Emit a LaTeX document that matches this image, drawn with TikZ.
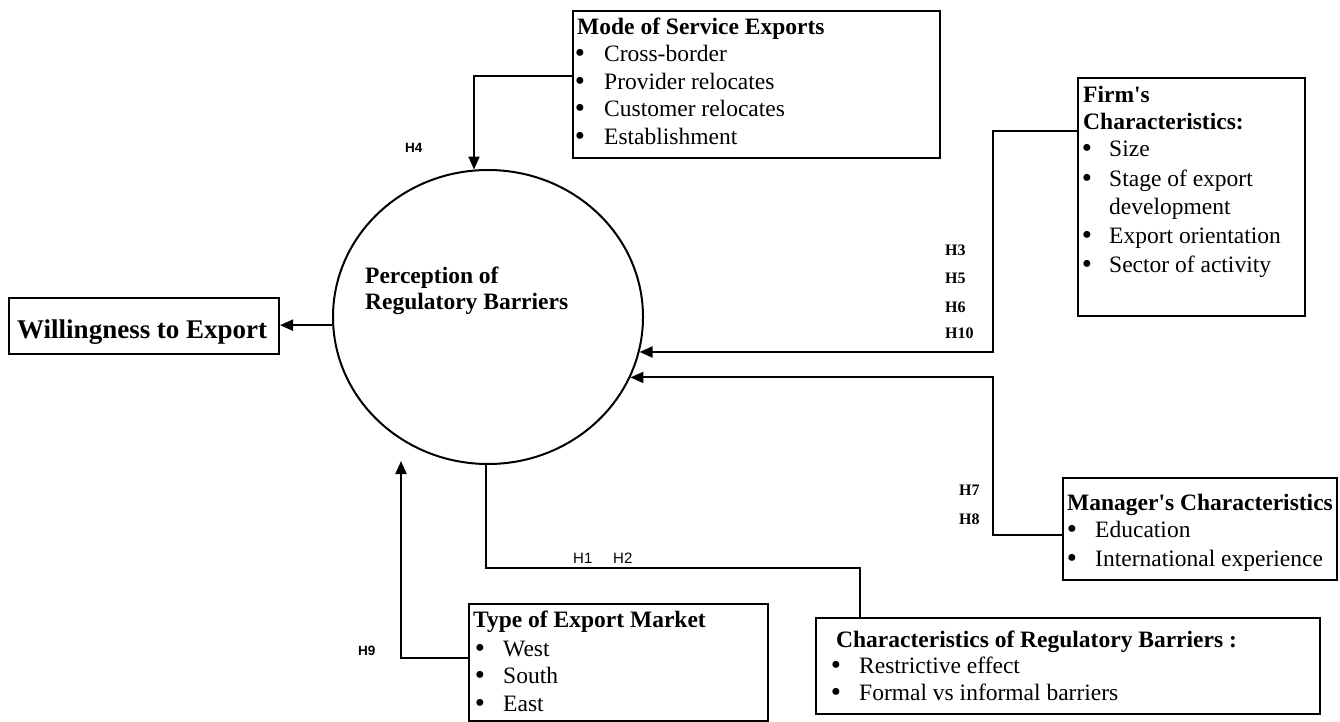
\documentclass[tikz,border=0pt]{standalone}
\usepackage{fontspec}
\setmainfont{Liberation Serif}[Ligatures=TeXOff]
\newfontfamily\hsans{Liberation Sans}
\usetikzlibrary{arrows.meta,shapes.geometric}
\tikzset{
  box/.style={draw, line width=2pt, anchor=north west, inner sep=0pt},
  arr/.style={line width=2pt, -{Triangle[length=13pt,width=11pt]}},
  conn/.style={line width=2pt},
  txt/.style={anchor=base west, inner sep=0pt, font=\fontsize{23.5}{28}\selectfont},
  ttl/.style={anchor=base west, inner sep=0pt, font=\fontsize{23.5}{28}\selectfont\bfseries},
  bul/.style={anchor=base, inner sep=0pt, yshift=-1pt, font=\fontsize{29}{30}\selectfont},
  hser/.style={anchor=base west, inner sep=0pt, font=\fontsize{16}{18}\selectfont\bfseries},
  hsb/.style={anchor=base west, inner sep=0pt, font=\hsans\fontsize{13.5}{16}\selectfont\bfseries},
  hsr/.style={anchor=base west, inner sep=0pt, font=\hsans\fontsize{15}{17}\selectfont},
}
\begin{document}
\begin{tikzpicture}[x=1pt,y=-1pt]
\useasboundingbox (0,0) rectangle (1340,722);
\fill[white] (0,0) rectangle (1340,722);

% central ellipse
\node[draw, ellipse, line width=2pt, minimum width=310pt, minimum height=294pt, inner sep=0pt] (circ) at (488,317) {};
\node[ttl] (perc1) at (365,283) {Perception of};
\node[ttl] (perc2) at (365,309) {Regulatory Barriers};

% Willingness box
\node[box, minimum width=270pt, minimum height=56pt] (will) at (8,297) {};
\node[anchor=base west, inner sep=0pt, font=\fontsize{27}{30}\selectfont\bfseries] (willt) at (17,338) {Willingness to Export};

% Mode of Service Exports
\node[box, minimum width=367pt, minimum height=147pt] (mode) at (572,10) {};
\node[ttl] (modet) at (577,34.5) {Mode of Service Exports};
\node[bul] (mb1) at (580,62) {\textbullet};
\node[txt] (mt1) at (604,62) {Cross-border};
\node[bul] (mb2) at (580,89.5) {\textbullet};
\node[txt] (mt2) at (604,89.5) {Provider relocates};
\node[bul] (mb3) at (580,117) {\textbullet};
\node[txt] (mt3) at (604,117) {Customer relocates};
\node[bul] (mb4) at (580,144.5) {\textbullet};
\node[txt] (mt4) at (604,144.5) {Establishment};

% Firm's Characteristics
\node[box, minimum width=227pt, minimum height=238pt] (firm) at (1077,77) {};
\node[ttl] (firmt1) at (1083,103) {Firm's};
\node[ttl] (firmt2) at (1083,130) {Characteristics:};
\node[bul] (fb1) at (1087,157) {\textbullet};
\node[txt] (ft1) at (1109,157) {Size};
\node[bul] (fb2) at (1087,186) {\textbullet};
\node[txt] (ft2) at (1109,186) {Stage of export};
\node[txt] (ft2b) at (1109,214) {development};
\node[bul] (fb3) at (1087,243) {\textbullet};
\node[txt] (ft3) at (1109,243) {Export orientation};
\node[bul] (fb4) at (1087,272) {\textbullet};
\node[txt] (ft4) at (1109,272) {Sector of activity};

% Manager's Characteristics
\node[box, minimum width=274pt, minimum height=102pt] (man) at (1062,477) {};
\node[ttl] (mant) at (1067,510) {Manager's Characteristics};
\node[bul] (nb1) at (1072,537) {\textbullet};
\node[txt] (nt1) at (1095,537) {Education};
\node[bul] (nb2) at (1072,566) {\textbullet};
\node[txt] (nt2) at (1095,566) {International experience};

% Characteristics of Regulatory Barriers
\node[box, minimum width=504pt, minimum height=96pt] (reg) at (815,617) {};
\node[ttl] (regt) at (836,647) {Characteristics of Regulatory Barriers :};
\node[bul] (rb1) at (836,673) {\textbullet};
\node[txt] (rt1) at (859,673) {Restrictive effect};
\node[bul] (rb2) at (836,700) {\textbullet};
\node[txt] (rt2) at (859,700) {Formal vs informal barriers};

% Type of Export Market
\node[box, minimum width=299pt, minimum height=117pt] (typ) at (468,603) {};
\node[ttl] (typt) at (473,627) {Type of Export Market};
\node[bul] (tb1) at (480,656) {\textbullet};
\node[txt] (tt1) at (503,656) {West};
\node[bul] (tb2) at (480,683) {\textbullet};
\node[txt] (tt2) at (503,683) {South};
\node[bul] (tb3) at (480,711) {\textbullet};
\node[txt] (tt3) at (503,711) {East};

% hypothesis labels
\node[hsb] (h4) at (405,153) {H4};
\node[hsb] (h9) at (358,655) {H9};
\node[hser] (h3) at (945,255) {H3};
\node[hser] (h5) at (945,283) {H5};
\node[hser] (h6) at (945,312) {H6};
\node[hser] (h10) at (945,338) {H10};
\node[hser] (h7) at (959,495) {H7};
\node[hser] (h8) at (959,524) {H8};
\node[hsr] (h1) at (573,563) {H1};
\node[hsr] (h2) at (613,563) {H2};

% connector corners
\coordinate (kMode) at (474,76);
\coordinate (kFirm) at (993,131);
\coordinate (kMan) at (993,535);
\coordinate (kReg) at (486,568);
\coordinate (kType) at (401,658);
\coordinate (tipType) at (401,461);

% connectors
\draw[arr] (circ.183.1) -- (will.east |- circ.183.1);
\draw[arr] (mode.west |- kMode) -- (kMode) -- (kMode |- circ.95.5);
\draw[arr] (firm.west |- kFirm) -- (kFirm) |- (circ.-13.9);
\draw[arr] (man.west |- kMan) -- (kMan) |- (circ.-23.8);
\draw[conn] (kReg |- circ.south) -- (kReg) -| ([xshift=45pt]reg.north west);
\draw[arr] (typ.west |- kType) -- (kType) -- (tipType);
\end{tikzpicture}
\end{document}
